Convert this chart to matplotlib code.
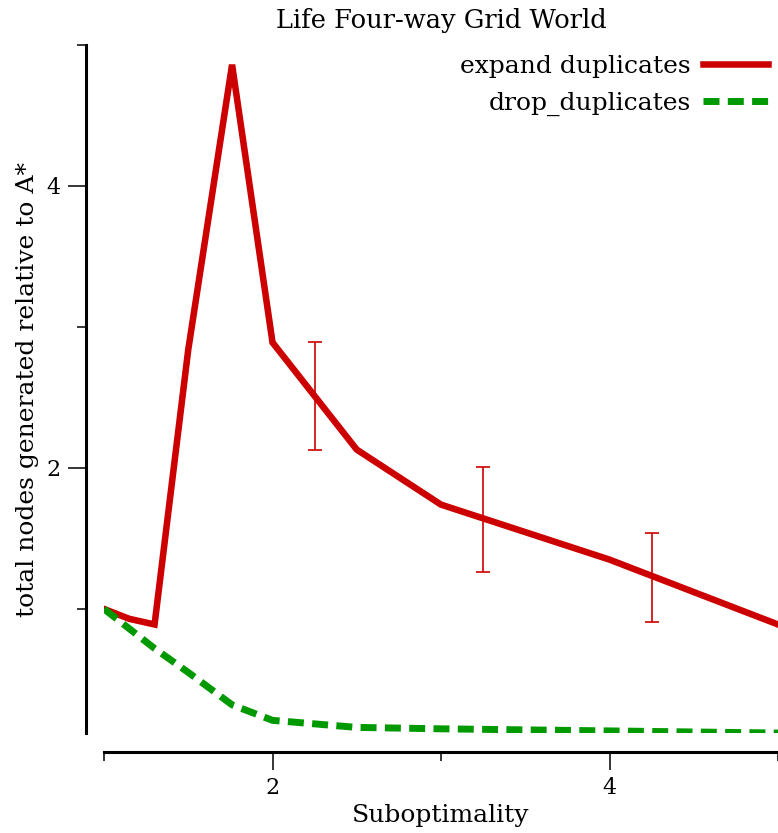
import matplotlib
matplotlib.use("Agg")
import matplotlib.pyplot as plt
from matplotlib.ticker import FixedLocator

plt.rcParams['font.family'] = ['DejaVu Serif']

# suboptimality bounds
expand_x = [1.0, 1.15, 1.3, 1.5, 1.76, 2.0, 2.5, 3.0, 4.0, 5.0]
expand_y = [1.0, 0.93, 0.89, 2.84, 4.86, 2.89, 2.13, 1.74, 1.35, 0.89]

drop_x = [1.0, 1.3, 1.5, 1.76, 2.0, 2.5, 3.0, 4.0, 5.0]
drop_y = [1.0, 0.72, 0.55, 0.32, 0.21, 0.16, 0.15, 0.135, 0.12]

# confidence intervals on expand duplicates
err_x = [2.25, 3.25, 4.25]
err_lo = [2.13, 1.26, 0.91]
err_hi = [2.89, 2.01, 1.54]

red = "#cc0000"
green = "#009900"

fig = plt.figure(figsize=(7.78, 8.33), dpi=100)
ax = fig.add_axes([0.1337, 0.12, 0.8663, 0.826])

ax.plot(expand_x, expand_y, color=red, lw=4.7, label="expand duplicates",
        solid_joinstyle='miter')
ax.plot(drop_x, drop_y, color=green, lw=5, linestyle=(0, (2.3, 1.2)),
        label="drop_duplicates")

mid = [(a + b) / 2 for a, b in zip(err_lo, err_hi)]
half = [(b - a) / 2 for a, b in zip(err_lo, err_hi)]
ax.errorbar(err_x, mid, yerr=half, fmt='none', ecolor=red, elinewidth=1.2,
            capsize=5, capthick=1.2)

ax.set_xlim(1, 5)
ax.set_ylim(0.12, 5)

ax.spines['top'].set_visible(False)
ax.spines['right'].set_visible(False)
ax.spines['left'].set_position(('outward', 13))
ax.spines['bottom'].set_position(('outward', 14))
ax.spines['left'].set_linewidth(2.2)
ax.spines['bottom'].set_linewidth(2.2)

ax.xaxis.set_major_locator(FixedLocator([2, 4]))
ax.xaxis.set_minor_locator(FixedLocator([1, 3, 5]))
ax.yaxis.set_major_locator(FixedLocator([2, 4]))
ax.yaxis.set_minor_locator(FixedLocator([1, 3, 5]))
ax.tick_params(which='major', length=13, width=1.1, labelsize=16, pad=5)
ax.tick_params(which='minor', length=6.5, width=1.1)

ax.set_xlabel("Suboptimality", fontsize=18, labelpad=3)
ax.set_ylabel("total nodes generated relative to A*", fontsize=18, labelpad=6)
ax.set_title("Life Four-way Grid World", fontsize=18.5, pad=12)

leg = ax.legend(loc='upper right', bbox_to_anchor=(1.0, 1.0), frameon=False,
                markerfirst=False, fontsize=18, handlelength=2.6,
                handletextpad=0.5, labelspacing=0.55, borderaxespad=0)

fig.savefig("out.png", dpi=100)
